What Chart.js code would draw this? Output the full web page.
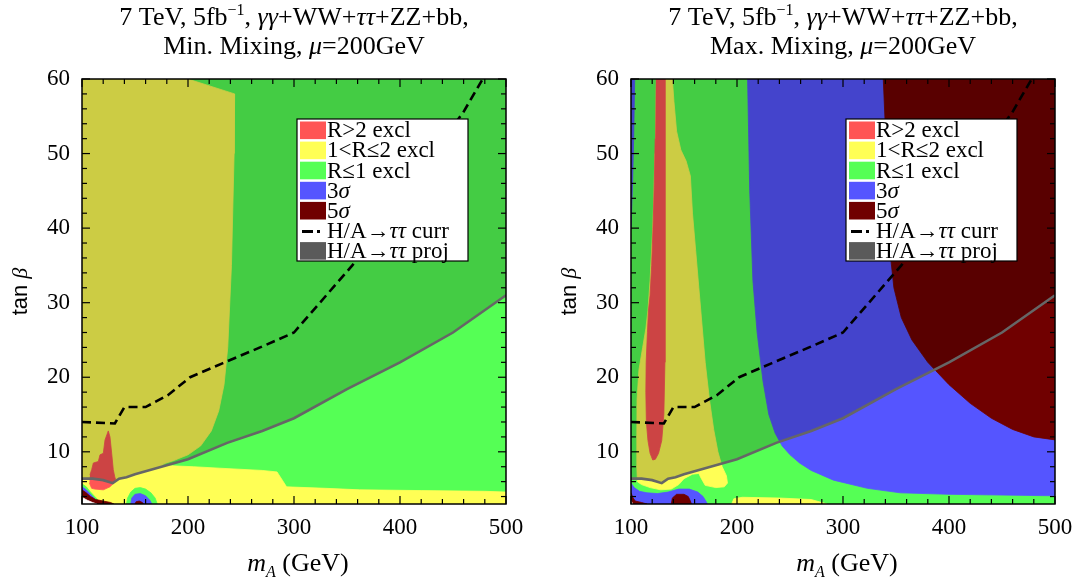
<!DOCTYPE html>
<html><head><meta charset="utf-8">
<script src="https://cdn.jsdelivr.net/npm/chart.js@4.4.1/dist/chart.umd.min.js"></script>
<style>
html,body{margin:0;padding:0;background:#fff;overflow:hidden;width:1078px;height:580px;position:relative}
.panel{position:absolute;top:0;height:580px;width:539px}
#p1{left:0}
#p2{left:549px}
</style></head><body>
<div class="panel" id="p1"><canvas id="c1"></canvas></div>
<div class="panel" id="p2"><canvas id="c2"></canvas></div>
<script>
// ---------- data (mA in GeV, tan beta) ----------
const xRange = [100, 500];
const yRange = [3, 60];
const xTickValues = [100, 200, 300, 400, 500];
const yTickValues = [10, 20, 30, 40, 50, 60];
const xMinorTicks = [120,140,160,180,220,240,260,280,320,340,360,380,420,440,460,480];
const yMinorTicks = [4,6,8,12,14,16,18,22,24,26,28,32,34,36,38,42,44,46,48,52,54,56,58];

// H/A -> tau tau projected boundary (same in both panels)
const projLine = [[100,6.4],[110,6.4],[120,6.2],[129,5.8],[135,6.4],[142,6.6],[150,7.0],[175,8.0],[200,9.0],[237,11.2],[270,12.8],[300,14.5],[350,18.4],[400,22.0],[450,26.0],[500,31.0]];
// H/A -> tau tau current limit (same in both panels)
const currLine = [[100,14],[131,13.8],[140,16],[160,16],[181,17.6],[202,20],[233,21.9],[268,24],[300,26],[355,35],[400,43.8],[460,55.6],[478,60]];

// Minimal mixing panel regions
const minGreen = [[100,3],[500,3],[500,60],[100,60]];
const minYellow = [[100,60],[200,60],[244,58],[243.5,50],[241,35],[237.5,24],[234,19],[229,15.5],[222,12.8],[212,10.8],[200,9.6],[186,8.8],[175,8.3],[180,8.15],[205,8.0],[230,7.8],[270,7.5],[284,7.3],[289,6.2],[293,5.3],[330,5.1],[362,4.9],[420,4.8],[480,4.7],[500,4.6],[500,3],[100,3]];
const minRed = [[107.5,6.9],[109.1,7.6],[110.7,8.5],[115.4,8.7],[117,9.6],[120.1,9.8],[121.7,11.6],[124.8,12.8],[126.4,12.0],[128,9.8],[129.5,7.6],[131.1,6.5],[131.1,6.0],[126.4,5.3],[120.1,4.9],[112,5.0],[109.1,5.1],[107,5.8]];
const minGreenCorner = [[100,5.7],[104,5.3],[108,4.6],[112,4.0],[116,3.4],[118,3],[100,3]];
const minBlueCorner = [[100,5.3],[104,4.9],[108,4.3],[112,3.7],[115,3.2],[116,3],[100,3]];
const minDredCorner = [[100,4.9],[104,4.5],[108,4.0],[113,3.6],[120,3.4],[127,3.2],[130,3],[100,3]];
const minWhiteCorner = [[100,3.9],[105,3.5],[110,3.2],[114,3],[100,3]];
const minGreenBlob = [[142,3],[143,3.8],[146,4.6],[150,5.1],[155,5.2],[160,5.0],[165,4.5],[169,3.8],[171,3]];
const minBlueBlob = [[146,3],[147,3.8],[150,4.3],[155,4.4],[160,4.1],[164,3.5],[166,3]];
const minDredBlob = [[150,3],[151,3.3],[154,3.4],[157,3.2],[158,3]];

// Maximal mixing panel regions
const maxGreen = [[100,3],[500,3],[500,60],[100,60]];
const maxBlue = [[210,60],[500,60],[500,4.1],[450,4.2],[400,4.3],[354,4.5],[323,5.1],[291,6.2],[270,7.5],[259,8.5],[250,9.6],[242.5,10.8],[236,12.5],[230,15],[224.5,19.5],[219,26],[215,33],[212,45],[210,60]];
const maxDred = [[338,60],[500,60],[500,11.6],[480,12],[460,13],[440,14.5],[420,16.5],[400,19],[380,22],[365,25],[355,28],[348,32],[345,36],[343,42],[341,50],[338,60]];
const maxBlueStrip = [[100,60],[103.5,60],[102.5,52],[101.5,46],[100,40]];
const maxYellow = [[123.5,60],[139,60],[140.5,57],[143,53],[147,50.5],[152,49],[156,47],[158,42],[161,37],[164,32],[167,27],[170,22],[174,17],[178,13],[182,10],[186,8],[190,6.8],[191,5.8],[188,5.3],[180,5.2],[170,5.5],[166,6.5],[164,7.1],[158,7.0],[150,6.4],[145,5.6],[138,5.0],[128,4.9],[118,5.2],[110,5.6],[106,6.0],[105.5,8],[105.5,12],[105.7,17],[107.5,21],[111,24],[114,26.5],[116,29],[118,33],[120.5,40],[121.5,44],[122.5,50]];
const maxYellowStrip = [[195,3],[197,3.7],[205,3.9],[240,3.8],[270,3.6],[280,3.2],[285,3]];
const maxRed = [[123.5,60],[132,60],[132,40],[132,22],[131,15],[129,11.5],[126,9.8],[123,9.0],[120.5,8.9],[118,9.8],[116,11.5],[114.5,14],[114,18],[114.3,22],[115.5,26],[116.5,29],[118,31],[119.5,35],[121,41],[122,46],[122.8,52]];
const maxBlueCorner = [[100,5.8],[103,5.2],[108,4.7],[115,4.5],[125,4.4],[135,4.6],[145,5.0],[155,5.0],[163,4.6],[168,4.0],[171,3.3],[172,3],[100,3]];
const maxDredCorner = [[100,4.5],[102,3.8],[104,3.4],[110,3.2],[115,3],[100,3]];
const maxDredBlob = [[138,3],[139,3.8],[143,4.3],[150,4.3],[154,4.0],[156,3.4],[157,3]];
const maxWhiteCorner = [[100,3.5],[101.5,3],[100,3]];

// ---------- styles ----------
const C = {red:'#ff5555', yellow:'#ffff55', green:'#55ff55', blue:'#5555ff', dred:'#700000', white:'#ffffff', proj:'#5a5a5a'};
const SERIF = "'Liberation Serif','Times New Roman',serif";

const toPts = a => a.map(([x,y]) => ({x, y}));
function region(pts, color) {
  return {data: toPts(pts), showLine: true, fill: 'shape', backgroundColor: color, borderColor: color,
          borderWidth: 0.8, pointRadius: 0, pointHoverRadius: 0, tension: 0};
}
function overlay(line) {
  const pts = line.concat([[500,60],[100,60]]);
  return {data: toPts(pts), showLine: true, fill: 'shape', backgroundColor: 'rgba(0,0,0,0.2)', borderColor: 'rgba(0,0,0,0)',
          borderWidth: 1, pointRadius: 0, pointHoverRadius: 0, tension: 0};
}
function curve(pts, color, width, dash) {
  return {data: toPts(pts), showLine: true, fill: false, borderColor: color, borderWidth: width, borderDash: dash || [],
          pointRadius: 0, pointHoverRadius: 0, tension: 0, borderCapStyle: 'butt'};
}

function drawRich(ctx, parts, x, y, size, align) {
  const fontFor = p => `${p.it ? 'italic ' : ''}${(p.sup || p.sub) ? Math.round(size * 0.62) : size}px ${p.fam || SERIF}`;
  let w = 0;
  parts.forEach(p => { ctx.font = fontFor(p); w += ctx.measureText(p.t).width; });
  let cx = align === 'center' ? x - w / 2 : (align === 'right' ? x - w : x);
  ctx.textAlign = 'left'; ctx.textBaseline = 'alphabetic';
  parts.forEach(p => {
    ctx.font = fontFor(p);
    const dy = p.sup ? -size * 0.38 : (p.sub ? size * 0.22 : 0);
    ctx.fillText(p.t, cx, y + dy);
    cx += ctx.measureText(p.t).width;
  });
}

const legendItems = [
  {label: [{t:'R>2 excl'}], color: C.red},
  {label: [{t:'1<R≤2 excl'}], color: C.yellow},
  {label: [{t:'R≤1 excl'}], color: C.green},
  {label: [{t:'3'},{t:'σ', it:true}], color: C.blue},
  {label: [{t:'5'},{t:'σ', it:true}], color: C.dred},
  {label: [{t:'H/A→'},{t:'ττ', it:true},{t:' curr'}], dash: true},
  {label: [{t:'H/A→'},{t:'ττ', it:true},{t:' proj'}], color: C.proj}
];

const decor = {
  id: 'decor',
  afterDatasetsDraw(chart) {
    const {ctx, chartArea: a, scales: {x, y}} = chart;
    ctx.save();
    ctx.strokeStyle = '#000'; ctx.lineWidth = 1.2;
    const seg = (x1,y1,x2,y2) => { ctx.beginPath(); ctx.moveTo(x1,y1); ctx.lineTo(x2,y2); ctx.stroke(); };
    xTickValues.concat(xMinorTicks).forEach(v => {
      const L = xTickValues.includes(v) ? 8 : 5; const px = x.getPixelForValue(v);
      seg(px, a.bottom, px, a.bottom - L); seg(px, a.top, px, a.top + L);
    });
    yTickValues.concat(yMinorTicks).forEach(v => {
      const L = yTickValues.includes(v) ? 8 : 5; const py = y.getPixelForValue(v);
      seg(a.left, py, a.left + L, py); seg(a.right, py, a.right - L, py);
    });
    ctx.lineWidth = 1.5;
    ctx.strokeRect(a.left, a.top, a.right - a.left, a.bottom - a.top);
    // legend
    const x0 = a.left + 215, y0 = 119, w = 171, h = 142, pitch = 20.1;
    ctx.fillStyle = '#fff'; ctx.fillRect(x0, y0, w, h);
    ctx.lineWidth = 1.2; ctx.strokeStyle = '#000'; ctx.strokeRect(x0, y0, w, h);
    legendItems.forEach((it, i) => {
      const ty = y0 + 2.5 + i * pitch;
      if (it.dash) {
        ctx.fillStyle = '#000';
        ctx.fillRect(x0 + 5, ty + 8, 11, 3);
        ctx.fillRect(x0 + 20, ty + 8, 3, 3);
      } else {
        ctx.fillStyle = it.color; ctx.fillRect(x0 + 3, ty, 26, 17.6);
      }
      ctx.fillStyle = '#000';
      drawRich(ctx, it.label, x0 + 30, ty + 15.8, 23, 'left');
    });
    ctx.restore();
  },
  afterDraw(chart) {
    const {ctx, chartArea: a} = chart;
    const o = chart.options.plugins.decor;
    ctx.save(); ctx.fillStyle = '#000';
    const cx = (a.left + a.right) / 2;
    drawRich(ctx, o.title1, cx, 25, 26, 'center');
    drawRich(ctx, o.title2, cx, 54, 26, 'center');
    drawRich(ctx, [{t:'m', it:true},{t:'A', it:true, sub:true},{t:' (GeV)'}], cx + 4, 571, 26, 'center');
    ctx.translate(21, (a.top + a.bottom) / 2);
    ctx.rotate(-Math.PI / 2);
    drawRich(ctx, [{t:'tan ', fam:"'Liberation Sans',Arial,sans-serif"},{t:'β', it:true}], 0, 6, 22, 'center');
    ctx.restore();
  }
};

function makeChart(id, datasets, title2) {
  datasets.forEach((d, i) => { d.order = -i; });
  return new Chart(document.getElementById(id), {
    type: 'scatter',
    data: {datasets},
    options: {
      responsive: true, maintainAspectRatio: false, animation: false, events: [],
      layout: {padding: {left: 0, top: 79, right: 33, bottom: 0}},
      plugins: {
        legend: {display: false}, tooltip: {enabled: false},
        decor: {
          title1: [{t:'7 TeV, 5fb'},{t:'−1', sup:true},{t:', '},{t:'γγ', it:true},{t:'+WW+'},{t:'ττ', it:true},{t:'+ZZ+bb,'}],
          title2: title2
        }
      },
      scales: {
        x: {
          type: 'linear', min: xRange[0], max: xRange[1],
          afterFit: s => { s.height = 76; },
          afterBuildTicks: s => { s.ticks = xTickValues.map(v => ({value: v})); },
          grid: {display: false, drawTicks: false},
          border: {display: false},
          ticks: {color: '#000', font: {family: SERIF, size: 23}, padding: 10, maxRotation: 0, autoSkip: false}
        },
        y: {
          type: 'linear', min: yRange[0], max: yRange[1],
          afterFit: s => { s.width = 82; },
          afterBuildTicks: s => { s.ticks = yTickValues.map(v => ({value: v})); },
          grid: {display: false, drawTicks: false},
          border: {display: false},
          ticks: {color: '#000', font: {family: SERIF, size: 23}, padding: 12, autoSkip: false}
        }
      }
    },
    plugins: [decor]
  });
}

makeChart('c1', [
  region(minGreen, C.green),
  region(minYellow, C.yellow),
  region(minRed, C.red),
  region(minGreenCorner, C.green),
  region(minBlueCorner, C.blue),
  region(minDredCorner, C.dred),
  region(minWhiteCorner, C.white),
  region(minGreenBlob, C.green),
  region(minBlueBlob, C.blue),
  region(minDredBlob, C.dred),
  overlay(projLine),
  curve(projLine, '#666666', 2.6),
  curve(currLine, '#000000', 2.6, [9, 5])
], [{t:'Min. Mixing, '},{t:'μ', it:true},{t:'=200GeV'}]);

makeChart('c2', [
  region(maxGreen, C.green),
  region(maxBlue, C.blue),
  region(maxDred, C.dred),
  region(maxBlueStrip, C.blue),
  region(maxYellow, C.yellow),
  region(maxYellowStrip, C.yellow),
  region(maxRed, C.red),
  region(maxBlueCorner, C.blue),
  region(maxDredCorner, C.dred),
  region(maxDredBlob, C.dred),
  region(maxWhiteCorner, C.white),
  overlay(projLine),
  curve(projLine, '#666666', 2.6),
  curve(currLine, '#000000', 2.6, [9, 5])
], [{t:'Max. Mixing, '},{t:'μ', it:true},{t:'=200GeV'}]);
</script></body></html>
